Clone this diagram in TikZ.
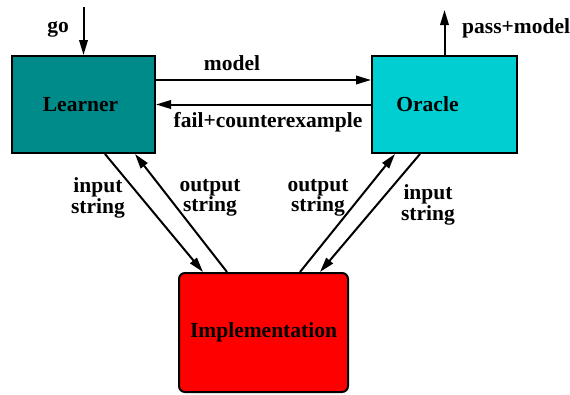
\documentclass[tikz,border=0pt]{standalone}
\usepackage{fontspec}
\setmainfont{Liberation Serif}
\usetikzlibrary{arrows.meta}
\definecolor{learnerteal}{RGB}{0,139,139}
\definecolor{oraclecyan}{RGB}{0,206,209}
\definecolor{implred}{RGB}{255,0,0}

\begin{document}
\begin{tikzpicture}[x=1pt,y=-1pt,
    box/.style={draw=black, line width=2pt, minimum width=143pt, minimum height=97pt,
                inner sep=0pt, font=\fontsize{21.5}{19}\selectfont\bfseries},
    flow/.style={-{Triangle[length=15pt,width=8.5pt]}, line width=2pt},
    lbl/.style={font=\fontsize{21.5}{19}\selectfont\bfseries, inner sep=0pt, align=center}]
    \useasboundingbox (0,0) rectangle (570,394);

    % Draw the boxes
    \node[box, fill=learnerteal] (Learner) at (83.5,104.5) {Learner\hspace*{6pt}};
    \node[box, fill=oraclecyan, minimum width=145pt] (Oracle) at (444.5,104.5) {Oracle\hspace*{34pt}};
    \node[box, fill=implred, rounded corners=6pt, minimum width=169pt, minimum height=119pt]
        (Impl) at (263.5,332.5) {Implementation};

    % Start and result
    \coordinate (goStart) at (83.5,7);
    \coordinate (passEnd) at (444.5,10);
    \draw[flow] (goStart) -- (Learner.north);
    \draw[flow] (Oracle.north) -- (passEnd);
    \node[lbl] (goLabel) at (58,29) {go};
    \node[lbl, anchor=west] (passLabel) at (462,28) {pass+model};

    % Learner and oracle
    \draw[flow] ([yshift=24.5pt]Learner.east) -- ([yshift=24.5pt]Oracle.west);
    \draw[flow] (Oracle.west) -- (Learner.east);
    \node[lbl] (modelLabel) at (232,63) {model};
    \node[lbl] (failLabel) at (268,122) {fail+counterexample};

    % Strings to and from the implementation
    \draw[flow] ([xshift=21.5pt]Learner.south) -- ([xshift=-60.5pt]Impl.north);
    \draw[flow] ([xshift=-36.5pt]Impl.north) -- ([xshift=51.5pt]Learner.south);
    \draw[flow] ([xshift=36.5pt]Impl.north) -- ([xshift=-49.5pt]Oracle.south);
    \draw[flow] ([xshift=-24.5pt]Oracle.south) -- ([xshift=56.5pt]Impl.north);
    \node[lbl] (inLeft) at (98,198) {input\\string};
    \node[lbl] (outLeft) at (210,198) {output\\string};
    \node[lbl] (outRight) at (318,198) {output\\string};
    \node[lbl] (inRight) at (428,205) {input\\string};
\end{tikzpicture}
\end{document}
